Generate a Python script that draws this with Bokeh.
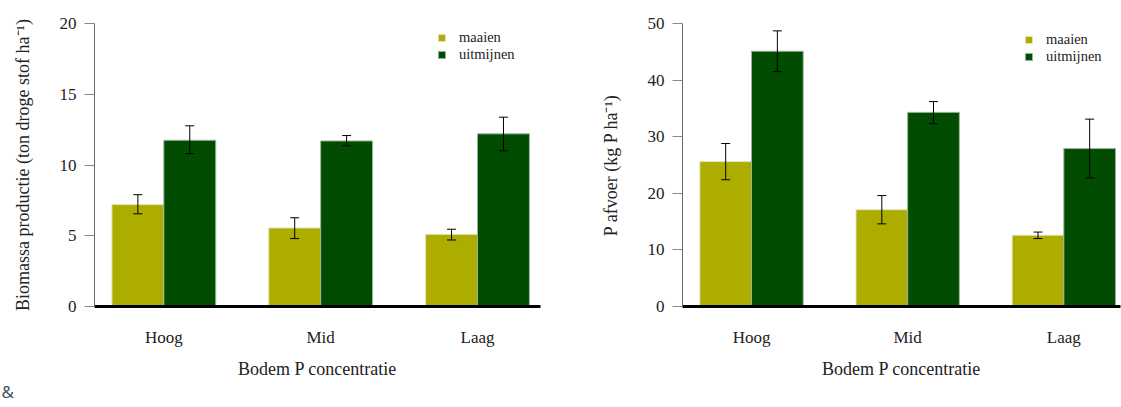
from bokeh.plotting import figure
from bokeh.models import (ColumnDataSource, Whisker, TeeHead, FixedTicker, Legend,
                          LegendItem, Title, Range1d)
from bokeh.layouts import row
from bokeh.embed import file_html
from bokeh.resources import INLINE

# ---------------- data ----------------
categories = ["Hoog", "Mid", "Laag"]
series = ["maaien", "uitmijnen"]

bio_maaien = [7.2, 5.55, 5.1]
bio_maaien_lo = [6.55, 4.8, 4.7]
bio_maaien_hi = [7.9, 6.27, 5.46]
bio_uitmijnen = [11.75, 11.7, 12.2]
bio_uitmijnen_lo = [10.8, 11.36, 11.0]
bio_uitmijnen_hi = [12.77, 12.08, 13.38]

p_maaien = [25.6, 17.1, 12.6]
p_maaien_lo = [22.4, 14.6, 12.0]
p_maaien_hi = [28.8, 19.6, 13.15]
p_uitmijnen = [45.1, 34.3, 27.9]
p_uitmijnen_lo = [41.5, 32.3, 22.7]
p_uitmijnen_hi = [48.7, 36.2, 33.1]

bio_ticks = [0, 5, 10, 15, 20]
p_ticks = [0, 10, 20, 30, 40, 50]

COL_M = "#adad00"
COL_U = "#014c01"
SERIF = "Liberation Serif"
BAR_W = 0.331
OFF = 0.1655
H = 407


def make_panel(vals_m, lo_m, hi_m, vals_u, lo_u, hi_u, ymax, yticks, ytitle,
               width, x_end, border_left, border_right, legend_loc):
    p = figure(width=width, height=H, output_backend="svg", toolbar_location=None,
               x_range=Range1d(0.558, x_end), y_range=Range1d(0, ymax),
               min_border_left=border_left, min_border_right=border_right,
               min_border_top=23, min_border_bottom=H - 23 - 283)
    p.outline_line_color = None
    p.xgrid.visible = False
    p.ygrid.visible = False
    p.background_fill_color = "white"

    pos = list(range(1, len(categories) + 1))
    src_m = ColumnDataSource(dict(x=[v - OFF for v in pos], top=vals_m, lo=lo_m, hi=hi_m))
    src_u = ColumnDataSource(dict(x=[v + OFF for v in pos], top=vals_u, lo=lo_u, hi=hi_u))

    r_m = p.vbar(x="x", top="top", width=BAR_W, source=src_m, fill_color=COL_M,
                 line_color="#e4e4c0", line_width=1)
    r_u = p.vbar(x="x", top="top", width=BAR_W, source=src_u, fill_color=COL_U,
                 line_color="#9bb59b", line_width=1)

    for s in (src_m, src_u):
        w = Whisker(source=s, base="x", lower="lo", upper="hi", level="overlay",
                    line_color="black", line_width=1,
                    upper_head=TeeHead(size=9, line_color="black", line_width=1),
                    lower_head=TeeHead(size=9, line_color="black", line_width=1))
        p.add_layout(w)

    # x axis
    xa = p.xaxis[0]
    xa.ticker = FixedTicker(ticks=pos)
    xa.major_label_overrides = {i + 1: c for i, c in enumerate(categories)}
    xa.axis_line_color = "black"
    xa.axis_line_width = 3
    xa.major_tick_line_color = None
    xa.minor_tick_line_color = None
    xa.major_tick_out = 0
    xa.major_tick_in = 0
    xa.major_label_standoff = 21
    xa.major_label_text_font = SERIF
    xa.major_label_text_font_size = "17px"
    xa.major_label_text_color = "#222222"
    xa.axis_label = "Bodem P concentratie"
    xa.axis_label_text_font = SERIF
    xa.axis_label_text_font_size = "18px"
    xa.axis_label_text_font_style = "normal"
    xa.axis_label_text_color = "#222222"
    xa.axis_label_standoff = 9

    # y axis
    ya = p.yaxis[0]
    ya.ticker = FixedTicker(ticks=yticks)
    ya.axis_line_color = "#666666"
    ya.axis_line_width = 1
    ya.major_tick_line_color = "#888888"
    ya.major_tick_out = 10
    ya.major_tick_in = 0
    ya.minor_tick_line_color = None
    ya.major_label_standoff = 8
    ya.major_label_text_font = SERIF
    ya.major_label_text_font_size = "17px"
    ya.major_label_text_color = "#222222"
    ya.axis_label = ytitle
    ya.axis_label_text_font = SERIF
    ya.axis_label_text_font_size = "18px"
    ya.axis_label_text_font_style = "normal"
    ya.axis_label_text_color = "#222222"
    ya.axis_label_standoff = 24

    legend = Legend(items=[LegendItem(label=series[0], renderers=[r_m]),
                           LegendItem(label=series[1], renderers=[r_u])],
                    location=legend_loc, orientation="vertical",
                    glyph_width=9, glyph_height=9, label_height=15,
                    label_standoff=13, spacing=0, padding=0, margin=0,
                    border_line_color=None, background_fill_alpha=0,
                    label_text_font=SERIF, label_text_font_size="14.5px",
                    label_text_color="#222222")
    p.add_layout(legend)
    return p


left = make_panel(bio_maaien, bio_maaien_lo, bio_maaien_hi,
                  bio_uitmijnen, bio_uitmijnen_lo, bio_uitmijnen_hi,
                  20, bio_ticks, "Biomassa productie (ton droge stof ha\u207b\u00b9)",
                  width=596, x_end=3.4017, border_left=94, border_right=56,
                  legend_loc=(343, 243))
right = make_panel(p_maaien, p_maaien_lo, p_maaien_hi,
                   p_uitmijnen, p_uitmijnen_lo, p_uitmijnen_hi,
                   50, p_ticks, "P afvoer (kg P ha\u207b\u00b9)",
                   width=525, x_end=3.363, border_left=86, border_right=1,
                   legend_loc=(342, 241))

amp = Title(text="&", align="left", offset=-93, standoff=-8,
            text_font="Noto Sans", text_font_size="17px", text_font_style="normal",
            text_color="#44546a")
left.add_layout(amp, "below")

layout = row(left, right, spacing=0)
open("out.html", "w").write(file_html(layout, INLINE))
